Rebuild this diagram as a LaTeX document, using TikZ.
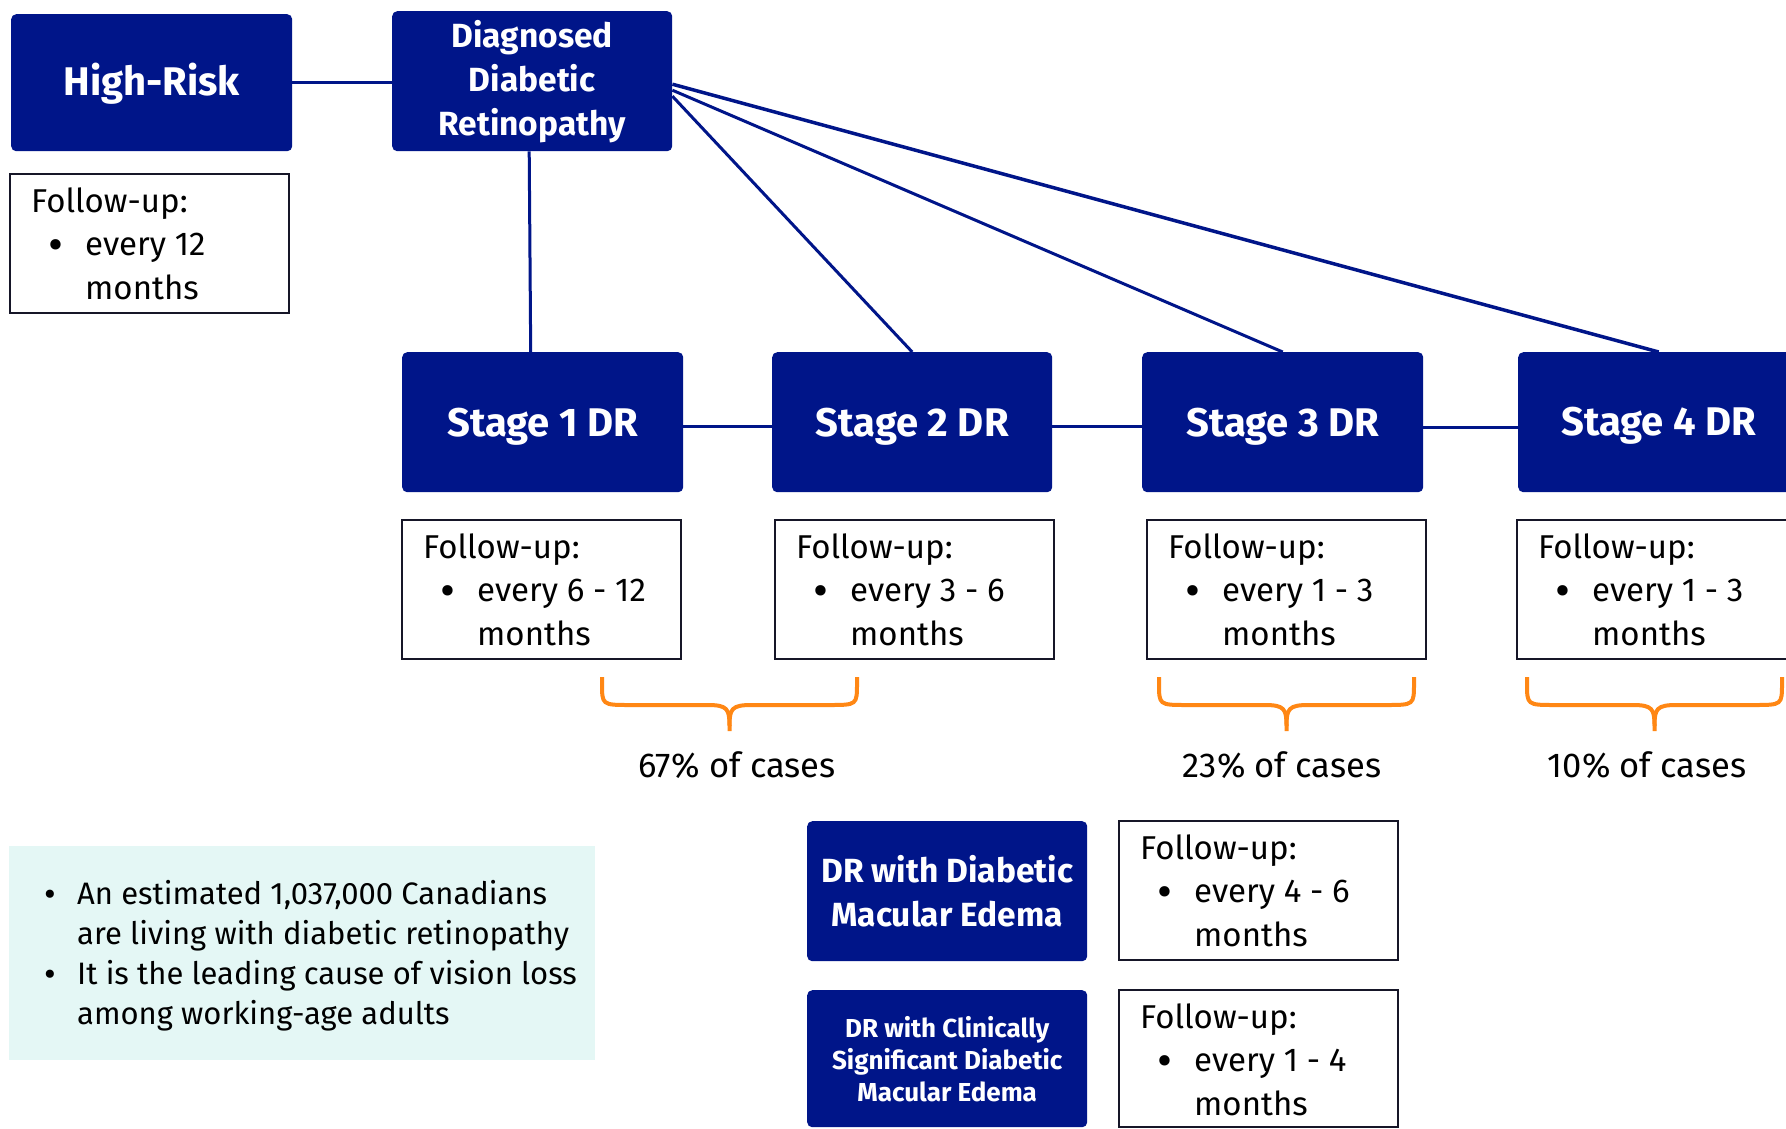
\documentclass[tikz,border=0pt]{standalone}
\usepackage{fontspec}
\setmainfont{Fira Sans}
\usetikzlibrary{calc}
\definecolor{navy}{RGB}{0,21,137}
\definecolor{boxline}{RGB}{22,22,40}
\definecolor{bracec}{RGB}{255,135,20}
\definecolor{mint}{RGB}{228,247,245}
\tikzset{
 bluebox/.style={fill=navy, rounded corners=5pt, text=white, align=center, inner sep=0pt, anchor=north west},
 stagebox/.style={bluebox, minimum height=140pt, text height=28pt, text depth=0pt, font=\fontsize{40}{44}\selectfont\bfseries},
 fubox/.style={draw=boxline, line width=2.5pt, inner sep=0pt, outer sep=0pt, anchor=north west, minimum width=279pt, minimum height=139pt},
 futext/.style={inner sep=0pt, anchor=base west, font=\fontsize{33}{39}\selectfont},
 fubullet/.style={inner sep=0pt, anchor=base west, font=\fontsize{46}{46}\selectfont},
 conn/.style={draw=navy, line width=3pt},
 bracestyle/.style={draw=bracec, line width=4pt},
 pct/.style={inner sep=0pt, anchor=base, font=\fontsize{34.5}{40}\selectfont},
 infotext/.style={inner sep=0pt, anchor=base west, font=\fontsize{31}{36}\selectfont},
 infobullet/.style={inner sep=0pt, anchor=base west, font=\fontsize{36}{36}\selectfont},
}
\newcommand\followupbox[5]{%
 \node[fubox, minimum height=#5] (#1) at (#2,#3) {};
 \node[futext] (#1-h) at ($(#1.north west)+(21,38)$) {Follow-up:};
 \node[fubullet] (#1-b) at ($(#1.north west)+(38,86)$) {\textbullet};
 \node[futext] (#1-e) at ($(#1.north west)+(75,81)$) {every #4};
 \node[futext] (#1-m) at ($(#1.north west)+(75,125)$) {months};
}
\newcommand\orangebrace[2]{%
 \draw[bracestyle] (#1,677) -- (#1,683) .. controls (#1,705) and (#1,705) .. ({#1+28},705)
   -- ({(#1+#2)/2-22},705) .. controls ({(#1+#2)/2-2},705) and ({(#1+#2)/2},709) .. ({(#1+#2)/2},726) -- ({(#1+#2)/2},731);
 \draw[bracestyle] ({(#1+#2)/2},726) .. controls ({(#1+#2)/2},709) and ({(#1+#2)/2+2},705) .. ({(#1+#2)/2+22},705)
   -- ({#2-28},705) .. controls (#2,705) and (#2,705) .. (#2,683) -- (#2,677);
}
\begin{document}
\begin{tikzpicture}[x=1pt,y=-1pt]
\useasboundingbox (0,0) rectangle (1786,1128);
\clip (0,0) rectangle (1786,1128);
\fill[white] (0,0) rectangle (1786,1128);

% top boxes
\node[bluebox, minimum width=281pt, minimum height=137pt, text height=26pt, text depth=0pt, font=\fontsize{40}{44}\selectfont\bfseries] (hr) at (11,14) {High-Risk};
\node[bluebox, minimum width=280pt, minimum height=140pt, font=\fontsize{33.5}{44}\selectfont\bfseries] (diag) at (392,11) {Diagnosed\\Diabetic\\Retinopathy};

% stages
\node[stagebox, minimum width=281pt] (s1) at (402,352) {Stage 1 DR};
\node[stagebox, minimum width=280pt] (s2) at (772,352) {Stage 2 DR};
\node[stagebox, minimum width=281pt] (s3) at (1142,352) {Stage 3 DR};
\node[stagebox, minimum width=281pt, text height=27pt] (s4) at (1518,352) {Stage 4 DR};

% edema boxes
\node[bluebox, minimum width=280pt, minimum height=140pt, font=\fontsize{33.5}{44}\selectfont\bfseries] (dme) at (807,821) {DR with Diabetic\\Macular Edema};
\node[bluebox, minimum width=280pt, minimum height=137pt, font=\fontsize{26}{32}\selectfont\bfseries] (csdme) at (807,990) {DR with Clinically\\Significant Diabetic\\Macular Edema};

% connectors
\draw[conn] (hr.east) -- (hr.east -| diag.west);
\draw[conn] ([xshift=-3pt]diag.south) -- ([xshift=-12pt]s1.north);
\draw[conn] ([yshift=-15pt]diag.east) -- (s2.north);
\draw[conn] ([yshift=-9pt]diag.east) -- (s3.north);
\draw[conn, line width=3.5pt] ([yshift=-3pt]diag.east) -- (s4.north);
\draw[conn] ([yshift=-4pt]s1.east) -- ([yshift=-4pt]s1.east -| s2.west);
\draw[conn] ([yshift=-4pt]s2.east) -- ([yshift=-4pt]s2.east -| s3.west);
\draw[conn] ([yshift=-5pt]s3.east) -- ([yshift=-5pt]s3.east -| s4.west);

% follow-up boxes
\followupbox{fu0}{10}{174}{12}{139pt}
\followupbox{fu1}{402}{520}{6 - 12}{139pt}
\followupbox{fu2}{775}{520}{3 - 6}{139pt}
\followupbox{fu3}{1147}{520}{1 - 3}{139pt}
\followupbox{fu4}{1517}{520}{1 - 3}{139pt}
\followupbox{fu5}{1119}{821}{4 - 6}{139pt}
\followupbox{fu6}{1119}{990}{1 - 4}{137pt}

% braces
\orangebrace{602}{857}
\orangebrace{1159}{1414}
\orangebrace{1527}{1782}
\node[pct] (p1) at (737,777) {67\% of cases};
\node[pct] (p2) at (1282,777) {23\% of cases};
\node[pct] (p3) at (1647,777) {10\% of cases};

% info box
\fill[mint] (9,846) rectangle (595,1060);
\node[infobullet] (i1b) at (44,906) {\textbullet};
\node[infotext] (i1) at (77,904) {An estimated 1,037,000 Canadians};
\node[infotext] (i2) at (77,944) {are living with diabetic retinopathy};
\node[infobullet] (i3b) at (44,986) {\textbullet};
\node[infotext] (i3) at (77,984) {It is the leading cause of vision loss};
\node[infotext] (i4) at (77,1024) {among working-age adults};
\end{tikzpicture}
\end{document}
